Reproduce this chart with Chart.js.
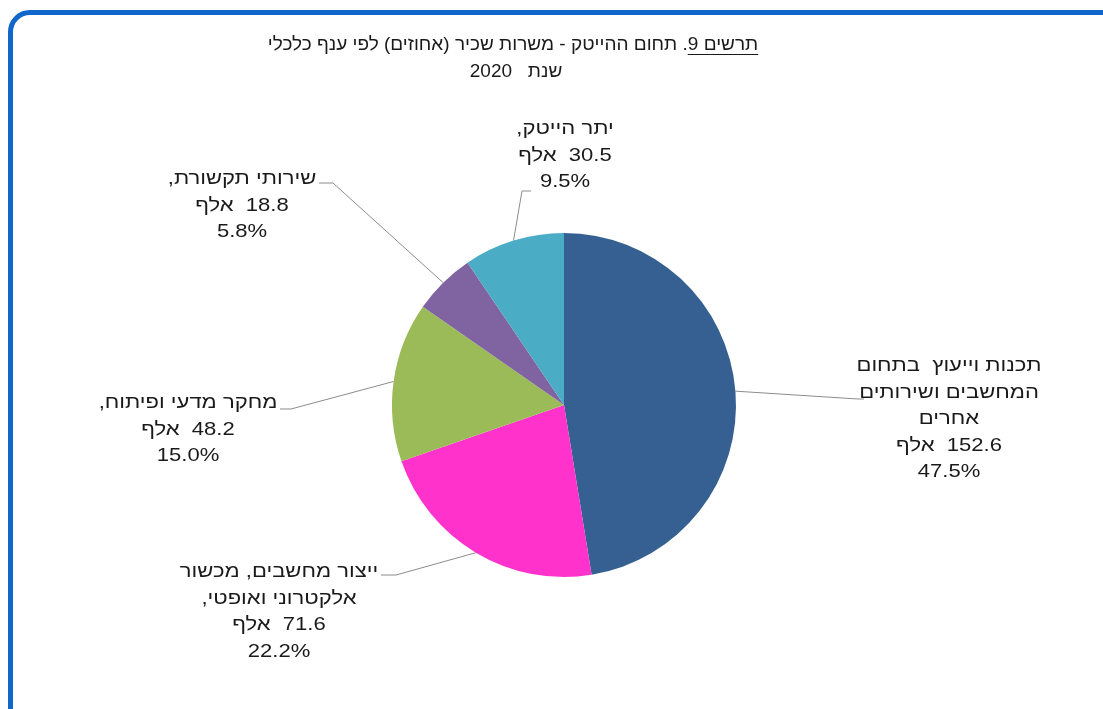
<!DOCTYPE html>
<html lang="he">
<head>
<meta charset="utf-8">
<script src="https://cdn.jsdelivr.net/npm/chart.js@4/dist/chart.umd.min.js"></script>
<style>
  html, body { margin:0; padding:0; background:#fff; overflow:hidden; }
  body { width:1103px; height:709px; position:relative; }
  #frame { position:absolute; left:8px; top:10px; width:1130px; height:740px;
           border:5.5px solid #1166cc; border-radius:22px; box-sizing:border-box; }
  #c { position:absolute; left:0; top:0; }
</style>
</head>
<body>
<div id="frame"></div>
<canvas id="c" width="1103" height="709" dir="rtl"></canvas>
<script>
// ---- data ----
const categories = [
  ["תכנות וייעוץ  בתחום", "המחשבים ושירותים", "אחרים"],
  ["ייצור מחשבים, מכשור", "אלקטרוני ואופטי,"],
  ["מחקר מדעי ופיתוח,"],
  ["שירותי תקשורת,"],
  ["יתר הייטק,"]
];
const values = [152.6, 71.6, 48.2, 18.8, 30.5];
const percentLabels = ["47.5%", "22.2%", "15.0%", "5.8%", "9.5%"];
const unitLabel = "אלף";
const colors = ["#366092", "#ff33cc", "#9bbb59", "#8064a2", "#4bacc6"];
const titleLines = ["תרשים 9. תחום ההייטק - משרות שכיר (אחוזים) לפי ענף כלכלי", "שנת   2020"];
const underlinedPart = "תרשים 9";

// ---- label placement (layout only) ----
const FONT = '19px "Liberation Sans", Arial, sans-serif';
const LABEL_SX = 1.16;
const LINE_H = 26.5;
const labelLayout = [
  { cx: 949, top: 366, path: [[858, 399], [864, 399]] },
  { cx: 279, top: 572, path: [[396, 575], [381, 575]] },
  { cx: 188, top: 403, path: [[291, 409], [280, 409]] },
  { cx: 242, top: 179, path: [[333, 183], [319, 183]] },
  { cx: 565, top: 129, path: [[522, 191], [531, 191]] }
];

const labelsPlugin = {
  id: 'labelsPlugin',
  afterDraw(chart) {
    const ctx = chart.ctx;
    const meta = chart.getDatasetMeta(0);
    ctx.save();
    // leader lines
    meta.data.forEach((arc, i) => {
      const p = arc.getProps(['x', 'y', 'startAngle', 'endAngle', 'outerRadius'], true);
      const mid = (p.startAngle + p.endAngle) / 2;
      const sx = p.x + Math.cos(mid) * p.outerRadius;
      const sy = p.y + Math.sin(mid) * p.outerRadius;
      const L = labelLayout[i];
      ctx.beginPath();
      ctx.moveTo(sx, sy);
      L.path.forEach(pt => ctx.lineTo(pt[0], pt[1]));
      ctx.strokeStyle = '#8c8c8c';
      ctx.lineWidth = 1;
      ctx.stroke();
    });
    // label texts
    ctx.font = FONT;
    ctx.fillStyle = '#1a1a1a';
    ctx.textAlign = 'center';
    ctx.textBaseline = 'middle';
    ctx.direction = 'rtl';
    categories.forEach((cat, i) => {
      const L = labelLayout[i];
      const lines = cat.concat([values[i].toFixed(1) + "  " + unitLabel, percentLabels[i]]);
      lines.forEach((t, k) => {
        ctx.save();
        ctx.translate(L.cx, L.top + k * LINE_H);
        ctx.scale(LABEL_SX, 1);
        ctx.fillText(t, 0, 0);
        ctx.restore();
      });
    });
    // title
    const tcx = 513;
    ctx.fillText(titleLines[0], tcx, 45);
    ctx.fillText(titleLines[1], tcx + 3, 72);
    const fullW = ctx.measureText(titleLines[0]).width;
    const partW = ctx.measureText(underlinedPart).width;
    const right = tcx + fullW / 2;
    ctx.beginPath();
    ctx.moveTo(right - partW, 54.5);
    ctx.lineTo(right, 54.5);
    ctx.strokeStyle = '#1a1a1a';
    ctx.lineWidth = 1;
    ctx.stroke();
    ctx.restore();
  }
};

new Chart(document.getElementById('c'), {
  type: 'pie',
  data: {
    labels: categories.map(c => c.join(' ')),
    datasets: [{
      data: values,
      backgroundColor: colors,
      borderWidth: 0
    }]
  },
  options: {
    responsive: false,
    animation: false,
    layout: { padding: { top: 233, bottom: 132, left: 392, right: 367 } },
    plugins: {
      legend: { display: false },
      tooltip: { enabled: false },
      title: { display: false }
    }
  },
  plugins: [labelsPlugin]
});
</script>
</body>
</html>
